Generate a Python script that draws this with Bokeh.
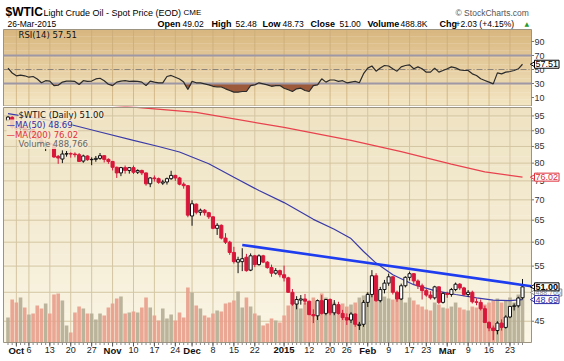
import math
import pandas as pd
from bokeh.plotting import figure
from bokeh.layouts import column
from bokeh.models import Range1d, LinearScale, Label
from bokeh.embed import file_html
from bokeh.resources import INLINE
from bokeh.core.properties import value

# ---------------- data ----------------
HOLIDAYS = ["2014-11-27", "2014-12-25", "2015-01-01", "2015-01-19", "2015-02-16"]
dates = [d.strftime("%Y-%m-%d") for d in pd.bdate_range("2014-09-29", "2015-03-26")
         if d.strftime("%Y-%m-%d") not in HOLIDAYS]
pos = {d: i for i, d in enumerate(dates)}

open_ = [93.5, 94.5, 91.2, 90.7, 91.0, 89.7, 90.3, 88.9, 87.3, 85.1,
         85.9, 85.7, 82.0, 81.2, 82.7, 82.8, 82.7, 82.5, 80.6, 82.1,
         81.0, 81.1, 81.4, 82.2, 81.1, 80.5, 78.8, 77.2, 78.7, 77.9,
         78.7, 77.4, 77.9, 77.2, 74.2, 75.8, 75.6, 74.4, 74.7, 75.6,
         76.5, 75.8, 74.1, 73.7, 66.0, 68.9, 66.9, 67.4, 66.8, 65.8,
         63.1, 63.8, 60.9, 60.0, 57.8, 55.8, 55.9, 56.8, 54.2, 57.1,
         55.3, 57.1, 55.8, 54.7, 53.6, 54.1, 53.3, 52.7, 50.0, 47.9,
         48.6, 48.8, 48.4, 46.1, 45.9, 48.5, 46.3, 48.7, 46.4, 47.8,
         46.3, 45.6, 45.2, 46.2, 44.3, 44.5, 48.2, 49.6, 53.1, 48.5,
         50.5, 51.7, 52.9, 50.0, 48.8, 51.2, 52.8, 53.5, 52.1, 51.2,
         50.3, 49.5, 49.0, 51.0, 48.2, 49.8, 49.6, 50.5, 51.5, 50.8,
         49.6, 50.0, 48.3, 48.2, 47.1, 44.8, 43.9, 43.5, 44.7, 44.0,
         45.7, 47.5, 47.6, 49.02]
high = [95.0, 94.9, 91.5, 91.3, 91.3, 90.7, 90.6, 89.0, 87.9, 86.9,
        86.5, 85.8, 82.4, 83.8, 83.6, 83.2, 83.2, 83.0, 82.5, 82.3,
        81.7, 82.1, 83.0, 82.3, 81.4, 80.6, 79.0, 78.9, 79.3, 78.8,
        79.3, 78.2, 78.1, 77.3, 76.0, 76.5, 75.9, 75.3, 75.9, 77.8,
        76.7, 76.1, 74.6, 73.8, 69.9, 69.1, 67.8, 67.7, 67.0, 65.9,
        64.3, 64.0, 62.0, 60.3, 59.0, 56.9, 58.7, 57.5, 57.6, 57.3,
        57.4, 57.3, 56.0, 55.3, 54.6, 54.3, 55.1, 52.9, 50.6, 49.3,
        49.5, 49.7, 48.5, 47.0, 48.7, 49.5, 48.8, 48.9, 48.6, 48.3,
        46.9, 46.3, 46.5, 46.3, 44.9, 48.6, 50.0, 54.2, 53.6, 51.0,
        52.3, 53.5, 53.0, 50.3, 51.6, 53.0, 53.9, 53.6, 52.4, 51.6,
        50.6, 50.2, 51.2, 51.1, 50.0, 50.1, 50.8, 51.8, 51.7, 51.0,
        50.4, 50.3, 48.9, 48.7, 47.6, 45.0, 44.3, 45.0, 45.3, 46.0,
        47.5, 48.0, 49.2, 52.48]
low = [93.0, 90.6, 88.8, 89.2, 89.2, 89.4, 88.4, 86.7, 84.9, 83.6,
       84.9, 81.6, 79.8, 80.0, 81.9, 81.6, 81.7, 80.4, 80.1, 80.7,
       79.4, 80.4, 81.0, 80.2, 79.8, 77.9, 75.8, 76.3, 77.0, 77.0,
       76.9, 76.9, 76.6, 73.7, 73.3, 74.8, 74.2, 73.9, 74.0, 75.3,
       75.0, 73.8, 72.9, 65.7, 63.7, 66.4, 66.1, 66.1, 65.3, 62.9,
       61.6, 60.6, 59.6, 57.3, 55.5, 53.6, 54.0, 53.9, 54.0, 54.8,
       55.1, 55.6, 54.5, 52.9, 53.3, 52.8, 52.0, 49.9, 47.6, 47.0,
       47.8, 47.8, 46.0, 44.7, 45.2, 46.1, 46.0, 46.0, 46.0, 46.1,
       45.2, 44.4, 44.7, 44.1, 43.6, 44.1, 47.4, 49.1, 48.3, 48.2,
       49.8, 51.2, 49.6, 48.3, 48.6, 50.9, 52.2, 51.5, 50.6, 48.7,
       49.2, 48.7, 48.7, 47.9, 48.0, 49.0, 49.2, 50.2, 50.4, 49.3,
       49.2, 48.0, 47.7, 46.8, 44.7, 43.4, 42.0, 42.9, 43.5, 43.8,
       45.5, 46.8, 47.3, 48.73]
close = [94.6, 91.2, 90.7, 91.0, 89.7, 90.3, 88.9, 87.3, 85.8, 85.9,
         85.7, 81.8, 81.5, 82.7, 82.8, 82.7, 82.5, 80.5, 82.1, 81.0,
         81.1, 81.4, 82.2, 81.1, 80.5, 78.8, 77.2, 78.7, 77.9, 78.7,
         77.4, 77.9, 77.2, 74.2, 75.8, 75.6, 74.6, 74.7, 75.6, 76.5,
         75.8, 74.1, 73.7, 66.2, 69.0, 66.9, 67.4, 66.8, 65.8, 63.1,
         63.8, 60.9, 60.0, 57.8, 55.9, 56.3, 56.5, 54.1, 57.1, 55.3,
         57.1, 55.8, 54.7, 53.6, 54.1, 53.3, 52.7, 50.0, 47.9, 48.7,
         48.8, 48.4, 46.1, 45.9, 48.5, 46.3, 48.7, 46.4, 47.8, 46.3,
         45.6, 45.2, 46.2, 44.5, 44.5, 48.2, 49.6, 53.1, 48.5, 50.5,
         51.7, 52.9, 50.0, 48.8, 51.2, 52.8, 53.5, 52.1, 51.2, 50.3,
         49.5, 49.0, 51.0, 48.2, 49.8, 49.6, 50.5, 51.5, 50.8, 49.6,
         50.0, 48.3, 48.2, 47.1, 44.8, 43.9, 43.5, 44.7, 44.0, 45.7,
         47.5, 47.6, 48.97, 51.00]
volume_k = [235, 404, 376, 423, 329, 263, 273, 348, 320, 367,
            273, 451, 461, 395, 160, 94, 282, 338, 320, 273,
            273, 216, 273, 254, 329, 367, 414, 432, 273, 282,
            291, 282, 329, 423, 329, 254, 207, 320, 226, 263,
            207, 282, 235, 517, 470, 348, 320, 254, 235, 273,
            301, 291, 367, 376, 395, 479, 329, 423, 338, 273,
            254, 160, 179, 226, 207, 188, 254, 348, 367, 376,
            320, 376, 329, 423, 395, 461, 423, 367, 376, 348,
            367, 338, 357, 376, 423, 442, 470, 489, 461, 414,
            432, 414, 404, 442, 423, 376, 423, 395, 357, 338,
            310, 301, 376, 357, 329, 320, 338, 376, 329, 310,
            301, 338, 329, 320, 357, 376, 395, 414, 376, 395,
            423, 376, 451, 489]
rsi14 = [52, 45, 41, 42, 41, 39, 40, 36.5, 31, 34,
         33.5, 27, 27.5, 32, 33.5, 33.5, 33, 28.5, 34, 33,
         33.5, 36.5, 37.5, 34, 29, 27, 32, 33.5, 34, 33,
         33.5, 33, 32, 27, 33.5, 32, 31, 31, 40, 41.5,
         39, 36.5, 32, 21.5, 33, 31, 31, 29.5, 28, 26,
         25, 25, 22.4, 20, 17.6, 17.6, 18.6, 18.6, 27, 28,
         31, 29.5, 28, 26, 27, 27, 23.3, 21, 18.6, 22.4,
         23.3, 20, 18.6, 27, 28, 36.7, 32, 35, 35, 33,
         34, 31, 32, 33, 31, 44, 52, 55, 47.6, 52,
         55.7, 55, 51, 47.6, 53.8, 55.7, 56.7, 51, 53.8, 51,
         46.2, 46.2, 52, 46.2, 48.6, 51, 53.8, 52.4, 49.5, 48.6,
         48.6, 43.8, 41.4, 36.7, 34.3, 31.9, 29.5, 45.2, 43.8, 46.2,
         47.1, 48.6, 51, 57.51]

ma50_dates = ["2014-09-29", "2014-10-08", "2014-10-17", "2014-10-29", "2014-11-10",
              "2014-11-18", "2014-11-25", "2014-12-05", "2014-12-15", "2014-12-23",
              "2015-01-02", "2015-01-13", "2015-01-21", "2015-01-27", "2015-01-30",
              "2015-02-04", "2015-02-10", "2015-02-18", "2015-02-25", "2015-03-04",
              "2015-03-11", "2015-03-17", "2015-03-23", "2015-03-26"]
ma50_vals = [95.8, 94.2, 92.4, 89.6, 86.9, 85.0, 83.3, 79.8, 76.0, 72.4,
             69.3, 65.2, 62.9, 60.8, 58.0, 55.6, 53.3, 51.4, 50.3, 49.6,
             49.0, 48.6, 48.5, 48.69]
ma200_dates = ["2014-09-29", "2014-10-20", "2014-11-10", "2014-12-02", "2015-01-02",
               "2015-01-27", "2015-02-12", "2015-03-03", "2015-03-13", "2015-03-26"]
ma200_vals = [100.8, 99.9, 98.1, 96.2, 91.1, 86.9, 83.4, 79.7, 77.5, 76.02]
trend_dates = ["2014-12-17", "2015-03-26"]
trend_vals = [59.4, 51.35]

month_dates = ["2014-10-01", "2014-11-03", "2014-12-01", "2015-01-02", "2015-02-02", "2015-03-02"]
month_labels = ["Oct", "Nov", "Dec", "2015", "Feb", "Mar"]
week_dates = ["2014-10-06", "2014-10-13", "2014-10-20", "2014-10-27", "2014-11-10",
              "2014-11-17", "2014-11-24", "2014-12-08", "2014-12-15", "2014-12-22",
              "2015-01-12", "2015-01-20", "2015-01-26", "2015-02-09", "2015-02-17",
              "2015-02-23", "2015-03-09", "2015-03-16", "2015-03-23"]
week_labels = ["6", "13", "20", "27", "10", "17", "24", "8", "15", "22",
               "12", "20", "26", "9", "17", "23", "9", "16", "23"]
price_ticks = [45, 50, 55, 60, 65, 70, 75, 80, 85, 90, 95]
rsi_ticks = [10, 30, 50, 70, 90]

# ---------------- geometry (canvas pixels) ----------------
FONT = "Liberation Sans"
LFONT = "DejaVu Sans"
W = 564
RSI_FIG_H = 106           # canvas rows 0..106 (header + RSI panel)
MAIN_TOP, MAIN_FIG_H = 106, 254   # canvas rows 106..360
PX0, PXD = 7.5, 4.183     # pixel of first bar, pixels per trading day
PL, PR = 3, 531           # plot area left/right
RSI_T, RSI_B = 29, 106    # RSI panel top/bottom rows
P_T, P_B = 107, 342       # price panel top/bottom rows
P_TOPV, P_BOTV = 97.95, 41.65
KLOG = (P_B - P_T) / math.log(P_TOPV / P_BOTV)
VPX = 489 / 52.0          # volume (K) per pixel


def ix(px):
    return (px - PX0) / PXD


def pr(row):              # price value at canvas row
    return P_TOPV * math.exp(-(row - P_T) / KLOG)


def rv(row):              # RSI value at canvas row
    return 50 - (row - 69) / 0.7


def vv(row):
    return (P_B - row) * VPX


XL, XR = ix(PL), ix(PR)
n = len(dates)
xs = list(range(n))
month_x = [pos[d] for d in month_dates]
week_x = [pos[d] for d in week_dates]
grid_x = sorted(month_x + week_x)


def mix(c1, c2, t):
    return "#%02x%02x%02x" % tuple(int(round(a + (b - a) * t)) for a, b in zip(c1, c2))


def slabel(fig, fig_h, top_row, x, row, text, size, bold=False, color="#000000", font=FONT,
           align="left", **kw):
    fig.add_layout(Label(x=x, y=fig_h - (row - top_row), x_units="screen", y_units="screen",
                         text=text, text_font=font, text_font_size=f"{size}px",
                         text_font_style="bold" if bold else "normal", text_color=color,
                         text_baseline="middle", text_align=align, **kw))


xr = Range1d(ix(0), ix(W))

# ---------------- header + RSI ----------------
rsi = figure(width=W, height=RSI_FIG_H, x_range=xr, y_range=Range1d(rv(RSI_FIG_H), rv(0)),
             output_backend="svg", toolbar_location=None, x_axis_location=None,
             y_axis_location=None, min_border=0, background_fill_color="white",
             border_fill_color="white")
rsi.outline_line_color = None
rsi.xgrid.visible = False
rsi.ygrid.visible = False

nb = 22
for k in range(nb):
    r0 = RSI_T + (RSI_B - RSI_T) * k / nb
    r1 = RSI_T + (RSI_B - RSI_T) * (k + 1) / nb
    rsi.quad(left=XL, right=XR, top=rv(r0), bottom=rv(r1) - 0.3,
             color=mix((216, 182, 126), (244, 230, 196), (k + 0.5) / nb), line_color=None)
rsi.segment(x0=grid_x, x1=grid_x, y0=[rv(RSI_T)] * len(grid_x), y1=[rv(RSI_B)] * len(grid_x),
            line_color="#c9ab78", line_alpha=0.75, line_width=1)
rsi.varea(x=xs, y1=[min(v, 30) for v in rsi14], y2=[30] * n, fill_color="#9c5a3a")
rsi.segment(x0=[XL, XL], x1=[XR, XR], y0=[70, 30], y1=[70, 30], line_color="#9d97a6",
            line_width=1.8)
rsi.segment(x0=[XL], x1=[XR], y0=[50], y1=[50], line_color="#8c8478", line_width=1,
            line_dash="6 2 1 2")
rsi.line(xs, rsi14, line_color="#2b2b2b", line_width=1.2)
rsi.quad(left=XL, right=XR, top=rv(RSI_T), bottom=rv(RSI_B - 0.5), fill_color=None,
         line_color="#9c9480", line_width=1)
# right axis
rsi.segment(x0=[XR] * len(rsi_ticks), x1=[ix(PR + 2.5)] * len(rsi_ticks), y0=rsi_ticks,
            y1=rsi_ticks, line_color="#777777")
rsi.text(x=[ix(PR + 3)] * len(rsi_ticks), y=rsi_ticks, text=[str(t) for t in rsi_ticks],
         text_font=value(FONT), text_font_size=value("9px"), text_color="#333333",
         text_baseline="middle", text_align="left")
rsi.scatter(x=[ix(PR + 3.5)], y=[rsi14[-1]], marker="triangle", angle=math.pi / 2, size=8,
            fill_color="white", line_color="#000000")
rsi.add_layout(Label(x=ix(PR + 3), y=rsi14[-1], text="57.51", text_font=FONT,
                     text_font_size="9px", text_baseline="middle", text_align="left",
                     text_color="#000000", border_line_color="#000000",
                     background_fill_color="white", padding=1))

# header texts
L1, L2 = 11.5, 23.3
slabel(rsi, RSI_FIG_H, 0, 5, L1, "$WTIC", 12, bold=True)
slabel(rsi, RSI_FIG_H, 0, 43, L1 + 0.5, "Light Crude Oil - Spot Price (EOD)", 9)
slabel(rsi, RSI_FIG_H, 0, 183, L1 + 0.5, "CME", 8)
slabel(rsi, RSI_FIG_H, 0, 455, L1 + 1, "\u00a9 StockCharts.com", 8.5, color="#555555")
slabel(rsi, RSI_FIG_H, 0, 7, L2, "26-Mar-2015", 8.5)
hdr = [(157, "Open", True), (182, "49.02", False), (211, "High", True), (235, "52.48", False),
       (262, "Low", True), (282, "48.73", False), (310, "Close", True), (339, "51.00", False),
       (367, "Volume", True), (400, "488.8K", False), (439, "Chg", True),
       (455, "+2.03 (+4.15%)", False)]
for hx, htxt, hb in hdr:
    slabel(rsi, RSI_FIG_H, 0, hx, L2, htxt, 9 if hb else 8.5, bold=hb)
slabel(rsi, RSI_FIG_H, 0, 524, L2 - 0.5, "\u25b2", 6, color="#2a9a2a", font=LFONT)
slabel(rsi, RSI_FIG_H, 0, 18, 34.5, "RSI(14) 57.51", 8.5, color="#111111", font=LFONT)

# ---------------- price panel ----------------
main = figure(width=W, height=MAIN_FIG_H, x_range=xr,
              y_range=Range1d(pr(MAIN_TOP + MAIN_FIG_H), pr(MAIN_TOP)), y_axis_type="log",
              output_backend="svg", toolbar_location=None, x_axis_location=None,
              y_axis_location=None, min_border=0, background_fill_color="white",
              border_fill_color="white")
main.outline_line_color = None
main.xgrid.visible = False
main.ygrid.visible = False
main.extra_y_ranges = {"vol": Range1d(vv(MAIN_TOP + MAIN_FIG_H), vv(MAIN_TOP))}
main.extra_y_scales = {"vol": LinearScale()}

nb = 24
for k in range(nb):
    r0 = P_T + (P_B - P_T) * k / nb
    r1 = P_T + (P_B - P_T) * (k + 1) / nb
    main.quad(left=XL, right=XR, top=vv(r0), bottom=vv(r1) - 3, y_range_name="vol",
              color=mix((238, 226, 193), (250, 245, 229), (k + 0.5) / nb), line_color=None)
main.segment(x0=grid_x, x1=grid_x, y0=[P_BOTV] * len(grid_x), y1=[P_TOPV] * len(grid_x),
             line_color="#d4c6a3", line_width=1)
main.segment(x0=[XL] * len(price_ticks), x1=[XR] * len(price_ticks), y0=price_ticks,
             y1=price_ticks, line_color="#d4c6a3", line_width=1)

up_prev = [close[i] >= (close[i - 1] if i > 0 else open_[i]) for i in range(n)]
vol_col = ["#b5ae95" if u else "#e8a08c" for u in up_prev]
main.vbar(x=xs, top=volume_k, bottom=0, width=0.86, y_range_name="vol",
          fill_color=vol_col, line_color=None, fill_alpha=0.92)

main.line([pos[d] for d in ma200_dates], ma200_vals, line_color="#e8424e", line_width=1.2)
main.line([pos[d] for d in ma50_dates], ma50_vals, line_color="#3a3aa8", line_width=1.2)

cand_col = ["#111111" if u else "#d8163a" for u in up_prev]
body_fill = ["white" if close[i] > open_[i] else cand_col[i] for i in range(n)]
main.segment(x0=xs, y0=high, x1=xs, y1=low, line_color=cand_col, line_width=1)
main.vbar(x=xs, top=[max(o, c) for o, c in zip(open_, close)],
          bottom=[min(o, c) for o, c in zip(open_, close)], width=0.74,
          fill_color=body_fill, line_color=cand_col, line_width=1)

tx = [pos[d] for d in trend_dates]
slope = (math.log(trend_vals[1]) - math.log(trend_vals[0])) / (tx[1] - tx[0])
tend = math.exp(math.log(trend_vals[1]) + slope * (XR - tx[1]))
main.line([tx[0], tx[1], XR], [trend_vals[0], trend_vals[1], tend],
          line_color="#1e3cf0", line_width=2.6)

# panel frame
main.quad(left=XL, right=XR, top=P_TOPV, bottom=P_BOTV, fill_color=None,
          line_color="#9c9480", line_width=1)

# right axis
main.segment(x0=[XR] * len(price_ticks), x1=[ix(PR + 2.5)] * len(price_ticks), y0=price_ticks,
             y1=price_ticks, line_color="#777777")
main.text(x=[ix(PR + 3)] * len(price_ticks), y=price_ticks, text=[str(t) for t in price_ticks],
          text_font=value(FONT), text_font_size=value("9px"), text_color="#333333",
          text_baseline="middle", text_align="left")

# bottom axis ticks and labels
main.segment(x0=xs, x1=xs, y0=[P_BOTV] * n, y1=[pr(P_B + 2.5)] * n, line_color="#8a8a8a")
main.segment(x0=grid_x, x1=grid_x, y0=[P_BOTV] * len(grid_x), y1=[pr(P_B + 4)] * len(grid_x),
             line_color="#555555")
main.text(x=month_x, y=[pr(349.5)] * len(month_x), text=month_labels, text_font=value(FONT),
          text_font_size=value("9.5px"), text_font_style="bold", text_color="#111111",
          text_align="center", text_baseline="middle")
main.text(x=week_x, y=[pr(349.5)] * len(week_x), text=week_labels, text_font=value(FONT),
          text_font_size=value("9px"), text_color="#222222", text_align="center",
          text_baseline="middle")

# legend
LBG = dict(background_fill_color="#f4ead0", background_fill_alpha=0.85)
slabel(main, MAIN_FIG_H, MAIN_TOP, 18, 114.3, "$WTIC (Daily) 51.00", 8.5, font=LFONT,
       color="#111111", **LBG)
slabel(main, MAIN_FIG_H, MAIN_TOP, 6, 124, "\u2014MA(50) 48.69", 8.5, font=LFONT,
       color="#2b2ba8", **LBG)
slabel(main, MAIN_FIG_H, MAIN_TOP, 6, 134, "\u2014MA(200) 76.02", 8.5, font=LFONT,
       color="#e0303c", **LBG)
slabel(main, MAIN_FIG_H, MAIN_TOP, 18, 143.5, "Volume 488,766", 8.5, font=LFONT,
       color="#666666", **LBG)


def vbox(yv, text, col, bold=False, size=9):
    main.scatter(x=[ix(PR + 3.5)], y=[yv], marker="triangle", angle=math.pi / 2, size=8,
                 fill_color="white", line_color=col)
    main.add_layout(Label(x=ix(PR + 3), y=yv, text=text, text_font=FONT,
                          text_font_size=f"{size}px",
                          text_font_style="bold" if bold else "normal",
                          text_baseline="middle", text_align="left", text_color=col,
                          border_line_color=col, background_fill_color="white", padding=1))


vbox(ma200_vals[-1], "76.02", "#e0303c")
vbox(pr(292), "488,766", "#888888", size=7)
vbox(ma50_vals[-1], "48.69", "#2b2ba8")
vbox(close[-1], "51.00", "#000000", bold=True)

layout = column(rsi, main, spacing=0)
open("out.html", "w").write(file_html(layout, INLINE))
